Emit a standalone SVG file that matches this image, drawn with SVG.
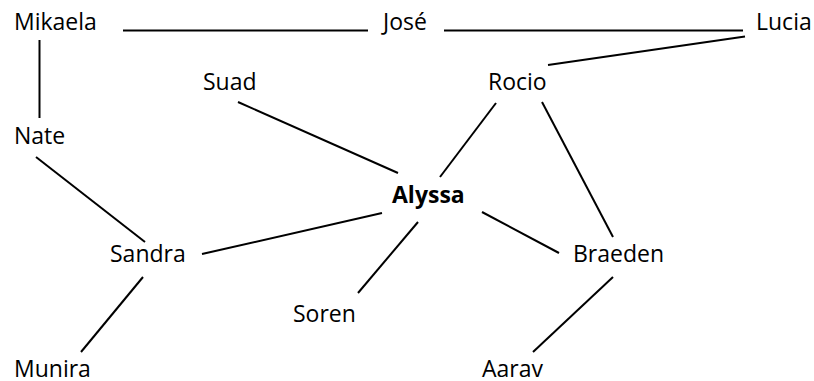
<svg xmlns="http://www.w3.org/2000/svg" width="814" height="381" viewBox="0 0 814 381">
<style>
text{font-family:"Open Sans","Noto Sans",sans-serif;font-size:23px;fill:#000}
.b{font-weight:bold}
line{stroke:#000;stroke-width:2}
</style>
<rect width="814" height="381" fill="#fff"/>
<g id="connectors">
<line x1="123" y1="30.5" x2="368" y2="30.5"/>
<line x1="444" y1="30.5" x2="743" y2="30.5"/>
<line x1="745" y1="36.5" x2="548" y2="65"/>
<line x1="39.5" y1="40" x2="39.5" y2="118"/>
<line x1="238" y1="102" x2="398" y2="173"/>
<line x1="496" y1="103" x2="440" y2="177"/>
<line x1="542" y1="102" x2="613" y2="237"/>
<line x1="36" y1="157" x2="145" y2="242"/>
<line x1="202" y1="254" x2="382" y2="213"/>
<line x1="418" y1="222" x2="358" y2="293"/>
<line x1="482" y1="212" x2="559" y2="253"/>
<line x1="143" y1="277" x2="81" y2="352"/>
<line x1="613" y1="277" x2="533" y2="352"/>
</g>
<g id="mikaela"><text x="14" y="30">Mikaela</text></g>
<g id="jose"><text x="383" y="30">José</text></g>
<g id="lucia"><text x="756" y="30">Lucia</text></g>
<g id="suad"><text x="203" y="90">Suad</text></g>
<g id="rocio"><text x="488" y="90">Rocio</text></g>
<g id="nate"><text x="14" y="144">Nate</text></g>
<g id="alyssa"><text class="b" x="392" y="203">Alyssa</text></g>
<g id="sandra"><text x="110" y="262">Sandra</text></g>
<g id="braeden"><text x="573" y="262">Braeden</text></g>
<g id="soren"><text x="293" y="322">Soren</text></g>
<g id="munira"><text x="14" y="377">Munira</text></g>
<g id="aarav"><text x="482" y="377">Aarav</text></g>
</svg>
